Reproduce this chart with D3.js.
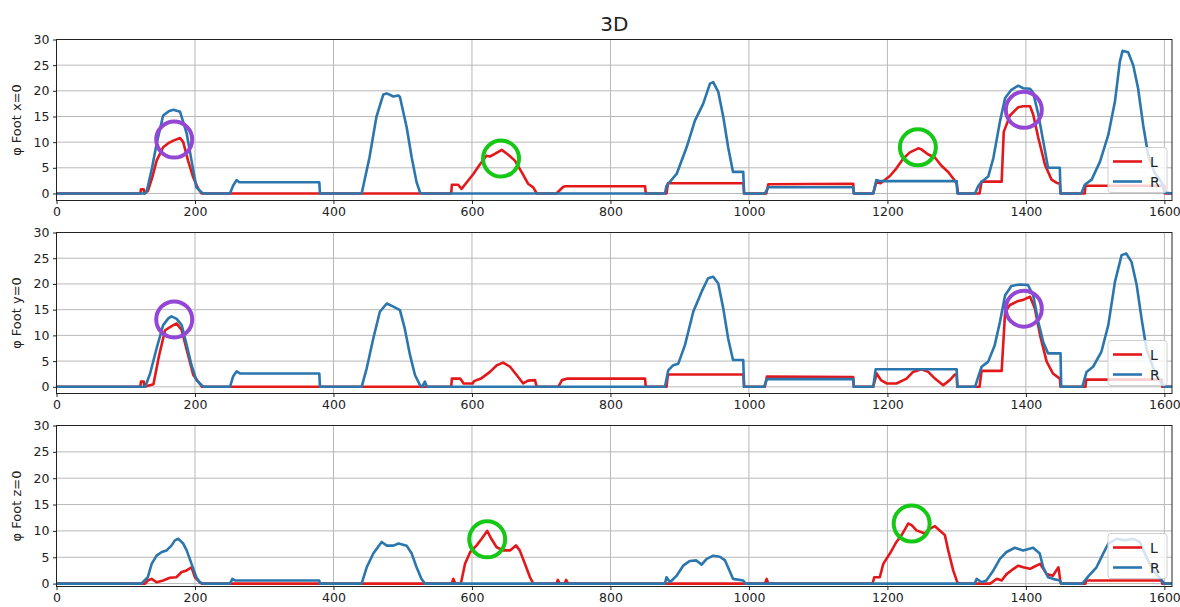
<!DOCTYPE html>
<html>
<head>
<meta charset="utf-8">
<script src="https://cdn.jsdelivr.net/npm/d3@7"></script>
<style>
  body { margin: 0; background: #fff; }
  text { font-family: "DejaVu Sans", sans-serif; fill: #222; }
</style>
</head>
<body>
<div id="chart"></div>
<script>

// frame ticks and value ticks
var xTicks = [0, 200, 400, 600, 800, 1000, 1200, 1400, 1600];
var yTicks = [0, 5, 10, 15, 20, 25, 30];
var panelLabels = ["φ Foot x=0", "φ Foot y=0", "φ Foot z=0"];
var seriesNames = ["L", "R"];

// [frame, value]
var footXL = [[0,0],[121,0],[122,0.8],[126,0.8],[127,0],[132,0.5],[138,3],[144.6,6.4],[154,9.0],[161.5,9.8],[168.7,10.3],[178.5,10.8],[183,10.0],[190,6.4],[197.5,3.1],[204.7,0.9],[209.6,0],[570,0],[571,1.7],[580,1.7],[585,0.9],[592,2.1],[602,3.8],[611.6,5.7],[621,7.35],[626,7.2],[633,7.7],[643,8.5],[652,7.6],[662,6.4],[672,4.1],[681,1.9],[688.5,1.2],[693.5,0],[722,0],[732,1.3],[735,1.4],[850,1.4],[851,0],[881,0],[883,2.0],[992,2.0],[993,0],[1025,0],[1028,1.8],[1150.6,1.9],[1151.5,0],[1179.5,0],[1184,2.2],[1190,2.0],[1203.6,3.4],[1213,4.9],[1223,6.8],[1232.5,8.0],[1244.5,8.8],[1249,8.6],[1259,7.6],[1268.6,7.0],[1278,5.4],[1287.8,4.2],[1295,2.9],[1300,2.0],[1302,0],[1333,0],[1336,2.3],[1365,2.3],[1368,12],[1377,15.2],[1389,16.8],[1396,17.0],[1406,17.0],[1410.5,15.4],[1418,10.8],[1427.5,5.6],[1437,2.7],[1444,2.1],[1449,1.9],[1450,0],[1485,0],[1486,1.5],[1600,1.5],[1601,0],[1611,0]];
var footXR = [[0,0],[128,0],[131,0.8],[138,5],[144.6,9.7],[154,15.2],[162,16.0],[168.7,16.3],[178.5,15.9],[188,11.7],[195,6.4],[202,1.2],[209.6,0.2],[213,0],[250.5,0],[255,1.5],[260,2.6],[264,2.2],[379.5,2.2],[380.5,0],[440.7,0],[443,1.4],[452,7],[462,14.9],[472,19.3],[477,19.5],[486.5,18.9],[493.7,19.1],[496,18.8],[505.7,12.9],[513,7.0],[520,2.2],[525,0.2],[527,0],[878.7,0],[881,1.5],[895.6,3.8],[910,9.0],[922,14.2],[934,17.5],[943.7,21.4],[948.5,21.7],[955.7,19.8],[963,14.9],[970,9.0],[977,4.2],[991.8,4.2],[993,0],[1023,0],[1028,1.2],[1150.6,1.2],[1151.5,0],[1179.5,0],[1184,2.6],[1190,2.4],[1300,2.4],[1301,0],[1326.5,0],[1331,1.4],[1336,2.3],[1345.6,3.3],[1353,6.9],[1362.5,14.0],[1370,18.6],[1379,20.2],[1389,21.0],[1396,20.5],[1406,20.4],[1410.5,19.6],[1418,15.4],[1425,10.2],[1432,5.0],[1449,5.0],[1450,0],[1480,0],[1485,1.7],[1495,2.7],[1507,6.2],[1519,11.4],[1528.6,17.9],[1535.7,25.7],[1539.6,27.8],[1547.7,27.5],[1555,25.0],[1562,20.5],[1569.4,13.3],[1576.6,7.5],[1586,4],[1596,2.2],[1600,0.2],[1611,0]];

var footYL = [[0,0],[121,0],[122,1.0],[126,1.0],[127,0],[140,0.5],[148,6],[156.8,11.0],[168.7,12.0],[173.6,12.3],[180.8,11.0],[190,6.2],[197.5,2.3],[207,0.6],[210,0],[570,0],[571,1.6],[583,1.6],[588,0.65],[601,0.65],[603,1.1],[613,1.6],[626,2.9],[636,4.2],[645,4.7],[655,3.9],[664.5,2.3],[674,0.65],[681,1.2],[691,1.3],[693.5,0],[724.6,0],[730,1.3],[738,1.6],[850,1.6],[851,0],[881,0],[883,2.4],[992,2.4],[993,0],[1023,0],[1026,2.0],[1150.6,1.9],[1151.5,0],[1179.5,0],[1184.5,2.6],[1190.7,1.3],[1198.8,0.65],[1213,0.65],[1227.7,1.6],[1237,2.9],[1249,3.4],[1259,2.9],[1268.6,1.6],[1280.6,0.3],[1290,1.3],[1297.6,2.4],[1300,2.4],[1301,0],[1333,0],[1336,3.1],[1365,3.1],[1370,14.6],[1377,15.9],[1389,16.7],[1396,16.9],[1406,17.5],[1413,15.2],[1420.5,10.0],[1430,4.9],[1439,2.6],[1449,1.6],[1450,0],[1486,0],[1487,1.4],[1596,1.4],[1597,0],[1611,0]];
var footYR = [[0,0],[128,0],[135,2.5],[144.6,7.5],[154,12.0],[161.5,13.3],[166,13.7],[173.6,13.2],[180.8,12.0],[188,8.1],[195,4.2],[202,1.3],[209.6,0.3],[213,0],[250.5,0],[255,2],[260,3.0],[265,2.6],[379.5,2.6],[380.5,0],[440.7,0],[448,3.6],[457.5,9.4],[467,14.6],[477,16.2],[486.5,15.6],[496,14.9],[503,11.3],[510.5,6.2],[517.7,2.3],[525,0.3],[528,0],[532,1.0],[535,0],[878.7,0],[883.5,3.2],[890.7,4.2],[898,4.5],[907.6,8.1],[919.6,14.6],[931.7,18.5],[941,21.1],[948.5,21.4],[955.7,20.1],[963,15.2],[970,9.4],[977,5.2],[991.8,5.2],[993,0],[1022,0],[1026,1.5],[1150.6,1.5],[1151.5,0],[1179.5,0],[1183,3.4],[1300,3.4],[1301,0],[1326.5,0],[1336,3.9],[1345.6,4.9],[1355,8.1],[1362.5,12.6],[1370,17.8],[1379,19.6],[1391,19.9],[1403,19.8],[1410.5,17.8],[1418,12.6],[1425,8.7],[1432,6.5],[1450,6.5],[1451,0],[1481.5,0],[1487.6,2.9],[1497,3.9],[1509,6.8],[1519,12.0],[1528.6,20.4],[1538.2,25.6],[1545,25.9],[1552.5,24.3],[1560,19.8],[1567,13.3],[1574,7.5],[1584,3.6],[1596,0.6],[1600,0],[1611,0]];

var footZL = [[0,0],[128,0],[131.8,0.6],[137.4,0.9],[144.6,0.25],[154,0.6],[163.7,1.1],[173,1.2],[180.8,2.2],[188,2.5],[195,3.1],[200,1.2],[207,0.25],[210,0],[571,0],[573,0.9],[576,0],[584,0],[590,3.75],[597.5,6.0],[606.8,7.25],[614,8.5],[622,10.0],[628,8.5],[635.6,6.9],[645,6.3],[655,6.3],[663.5,7.25],[669,6.3],[676.5,3.75],[683.8,1.2],[688.5,0],[722,0],[724,0.7],[727,0],[734,0],[736,0.7],[739,0],[1023,0],[1025.6,0.9],[1028,0],[1178.5,0],[1181,1.2],[1189,1.2],[1194,3.75],[1203.6,5.7],[1213,7.9],[1220.5,9.2],[1230,11.4],[1235,11.1],[1242,10.1],[1254,9.5],[1261,10.4],[1268.6,10.9],[1278,9.8],[1283,9.2],[1287.8,6.3],[1295,2.5],[1300,0.6],[1302,0],[1348,0],[1351,0.25],[1358,0.9],[1365,0.6],[1372,1.8],[1379,2.5],[1389,3.4],[1396,3.1],[1406,2.8],[1410.5,3.1],[1420.5,3.75],[1430,1.8],[1439,1.5],[1447,3.1],[1450,0.25],[1451,0],[1486,0],[1487,0.6],[1596,0.6],[1597,0],[1611,0]];
var footZR = [[0,0],[122.5,0],[131.8,1.2],[137.4,3.75],[144.6,5.3],[152,6.0],[159,6.3],[166,7.2],[171,8.2],[176,8.5],[183,7.6],[188,6.3],[195,3.75],[202,1.2],[207,0.25],[212,0],[250.5,0],[254,0.9],[258,0.6],[379.5,0.6],[380.5,0],[440.7,0],[448,3.1],[457.5,5.7],[469.6,7.9],[477,7.2],[486.5,7.2],[494,7.6],[505.7,7.2],[513,5.7],[520,3.1],[527,0.9],[532,0],[878.7,0],[881,1.2],[886,0.25],[895.6,1.5],[905,3.4],[914.8,4.3],[924,4.4],[931.7,3.6],[939,4.7],[948.5,5.3],[958,5.1],[965.5,4.4],[972.8,2.2],[977,0.9],[991.8,0.6],[995,0],[1326,0],[1329,0.9],[1336,0.25],[1343,0.6],[1353,2.5],[1362.5,4.7],[1372,6.0],[1384,6.8],[1396,6.3],[1410.5,6.8],[1420,5.7],[1425,3.1],[1432,1.2],[1439,0.9],[1449,0.6],[1451,0],[1481.5,0],[1491,1.5],[1502,3.1],[1511.6,5.7],[1519,7.6],[1531,8.5],[1543,8.2],[1555,8.5],[1564.6,7.9],[1574,5.0],[1584,2.5],[1596,0.6],[1600,0],[1611,0]];

// circled spots [frame, value, kind]
var marksX = [[170, 10.5, "p"], [642, 6.8, "g"], [1244, 9.0, "g"], [1397, 16.3, "p"]];
var marksY = [[170, 13.1, "p"], [1397, 15.2, "p"]];
var marksZ = [[622, 8.4, "g"], [1235, 11.4, "g"]];

var colors = {L: "#e3181b", R: "#2b76ad"};
var ringColor = {p: "#9446d4", g: "#16c816"};

var W = 1180, H = 607;
var left = 56.5, right = 1172, panelH = 161;
var panelTops = [39.5, 232.5, 425.5];
var yMins = [-1.37, -1.3, -0.55];

var svg = d3.select("#chart").append("svg")
    .attr("width", W)
    .attr("height", H);

var x = d3.scaleLinear().domain([0, 1611]).range([left, right]);

svg.append("text")
    .attr("x", (left + right) / 2)
    .attr("y", 31)
    .attr("text-anchor", "middle")
    .style("font-size", "20px")
    .text("3D");

function renderPanel(i, seriesL, seriesR, marks) {
    var top = panelTops[i];
    var y = d3.scaleLinear().domain([yMins[i], 30]).range([top + panelH, top]);
    var g = svg.append("g");

    // grid
    g.selectAll(".vgrid").data(xTicks).enter().append("line")
        .attr("x1", function (d) { return x(d) }).attr("x2", function (d) { return x(d) })
        .attr("y1", top).attr("y2", top + panelH)
        .attr("stroke", "#b8b8b8").attr("stroke-width", 1);
    g.selectAll(".hgrid").data(yTicks).enter().append("line")
        .attr("x1", left).attr("x2", right)
        .attr("y1", function (d) { return y(d) }).attr("y2", function (d) { return y(d) })
        .attr("stroke", "#b8b8b8").attr("stroke-width", 1);

    var line = d3.line()
        .x(function (d) { return x(d[0]) })
        .y(function (d) { return y(d[1]) });

    [seriesL, seriesR].forEach(function (s, k) {
        g.append("path")
            .datum(s)
            .attr("d", line)
            .attr("fill", "none")
            .attr("stroke", colors[seriesNames[k]])
            .attr("stroke-width", 2.6)
            .attr("stroke-linejoin", "round");
    });

    // annotation rings
    g.selectAll(".ring").data(marks).enter().append("circle")
        .attr("cx", function (d) { return x(d[0]) })
        .attr("cy", function (d) { return y(d[1]) })
        .attr("r", 18)
        .attr("fill", "none")
        .attr("stroke", function (d) { return ringColor[d[2]] })
        .attr("stroke-width", 4);

    // frame
    g.append("rect")
        .attr("x", left).attr("y", top)
        .attr("width", right - left).attr("height", panelH)
        .attr("fill", "none").attr("stroke", "#222").attr("stroke-width", 1);

    // axes
    var ax = g.append("g")
        .attr("transform", "translate(0," + (top + panelH) + ")")
        .call(d3.axisBottom(x).tickValues(xTicks).tickSize(3.5).tickPadding(3.5).tickFormat(d3.format("d")));
    var ay = g.append("g")
        .attr("transform", "translate(" + left + ",0)")
        .call(d3.axisLeft(y).tickValues(yTicks).tickSize(3.5).tickPadding(3.5));
    [ax, ay].forEach(function (a) {
        a.select(".domain").remove();
        a.selectAll("line").attr("stroke", "#222");
        a.selectAll("text").style("font-size", "12.5px").style("font-family", "DejaVu Sans").attr("fill", "#222");
    });

    g.append("text")
        .attr("transform", "translate(20.5," + (top + panelH / 2) + ") rotate(-90)")
        .attr("text-anchor", "middle")
        .style("font-size", "13px")
        .text(panelLabels[i]);

    // legend
    var lx = 1108, ly = top + panelH - 8 - 45;
    var leg = g.append("g");
    leg.append("rect")
        .attr("x", lx).attr("y", ly).attr("width", 59).attr("height", 45).attr("rx", 3)
        .attr("fill", "#fff").attr("fill-opacity", 0.8)
        .attr("stroke", "#d0d0d0").attr("stroke-width", 1);
    seriesNames.forEach(function (n, k) {
        var yy = ly + 14 + k * 20;
        leg.append("line")
            .attr("x1", lx + 5).attr("x2", lx + 34)
            .attr("y1", yy).attr("y2", yy)
            .attr("stroke", colors[n]).attr("stroke-width", 2.6);
        leg.append("text")
            .attr("x", lx + 42).attr("y", yy + 5)
            .style("font-size", "14px")
            .text(n);
    });
}

renderPanel(0, footXL, footXR, marksX);
renderPanel(1, footYL, footYR, marksY);
renderPanel(2, footZL, footZR, marksZ);

</script>
</body>
</html>
